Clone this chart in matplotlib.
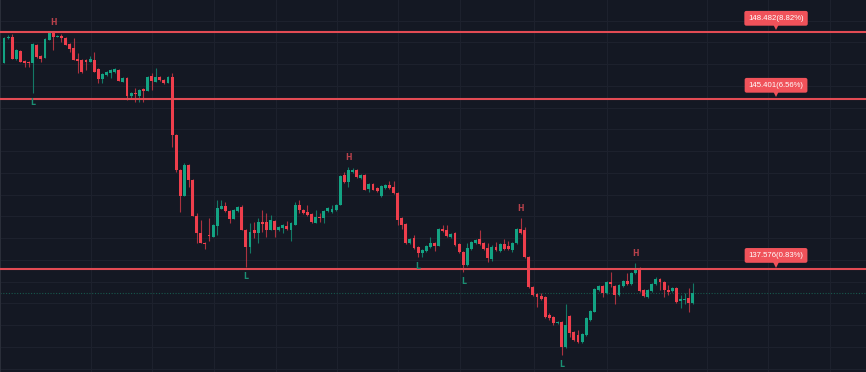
import numpy as np
import matplotlib.pyplot as plt
from matplotlib.transforms import ScaledTranslation

# =====================================================
# DATA (prices, one entry per candle)
# =====================================================

opens = [147.06, 148.21, 148.25, 147.24, 147.61, 147.15, 147.10, 147.06, 147.88, 147.38,
         147.29, 148.11, 148.44, 148.25, 148.30, 148.21, 147.93, 147.75, 147.24, 147.19,
         147.19, 147.10, 147.19, 146.78, 146.32, 146.50, 146.60, 146.64, 146.73, 146.18,
         146.37, 145.54, 145.68, 145.54, 145.86, 145.77, 146.46, 146.18, 146.41, 146.27,
         146.14, 146.41, 143.74, 142.13, 140.94, 142.37, 141.67, 140.02, 139.24, 138.78,
         139.14, 139.05, 139.56, 140.34, 140.48, 140.25, 139.88, 140.25, 140.43, 139.37,
         138.59, 139.37, 139.24, 139.74, 139.74, 139.37, 139.79, 139.37, 139.47, 139.56,
         139.37, 139.60, 140.52, 140.29, 140.20, 140.11, 139.70, 139.97, 139.93, 140.25,
         140.20, 140.29, 140.52, 141.90, 141.58, 142.04, 142.13, 141.76, 141.90, 141.26,
         141.49, 141.31, 140.94, 141.31, 141.44, 141.35, 141.08, 139.93, 139.65, 138.78,
         139.01, 138.59, 138.32, 138.41, 138.59, 138.78, 138.64, 139.42, 139.37, 139.05,
         139.24, 138.73, 138.36, 137.76, 138.50, 138.78, 138.96, 138.78, 138.55, 138.04,
         138.59, 138.41, 138.73, 138.64, 138.45, 138.78, 139.42, 139.37, 138.13, 136.75,
         136.43, 136.34, 136.29, 135.46, 135.37, 135.10, 135.14, 133.99, 135.42, 134.68,
         134.54, 134.22, 134.54, 135.23, 135.60, 136.61, 136.80, 136.47, 136.98, 136.80,
         136.38, 136.80, 137.03, 136.89, 137.40, 137.62, 136.61, 136.29, 136.57, 136.89,
         137.12, 136.98, 136.61, 136.57, 136.71, 136.11, 136.15, 136.24, 136.02]

closes = [148.21, 148.25, 147.24, 147.65, 147.10, 147.06, 147.06, 147.93, 147.33, 147.24,
          148.16, 148.44, 148.25, 148.30, 148.21, 147.88, 147.70, 147.19, 147.15, 146.64,
          147.10, 147.24, 146.64, 146.32, 146.55, 146.64, 146.73, 146.78, 146.23, 146.37,
          145.54, 145.68, 145.63, 145.81, 145.77, 146.41, 146.23, 146.41, 146.27, 146.14,
          146.41, 143.74, 142.13, 140.94, 142.37, 141.67, 140.02, 139.24, 138.78, 138.73,
          139.10, 139.60, 140.39, 140.48, 140.25, 139.88, 140.29, 140.43, 139.37, 138.59,
          139.28, 139.24, 139.74, 139.65, 139.37, 139.83, 139.37, 139.51, 139.60, 139.42,
          139.70, 140.52, 140.29, 140.16, 140.06, 139.74, 139.97, 139.93, 140.25, 140.39,
          140.34, 140.52, 141.86, 141.58, 142.13, 142.13, 141.81, 141.90, 141.21, 141.49,
          141.21, 141.17, 141.40, 141.44, 141.31, 141.08, 139.83, 139.60, 138.78, 138.96,
          138.55, 138.32, 138.45, 138.64, 138.78, 138.64, 139.42, 139.33, 139.10, 139.19,
          138.68, 138.36, 137.76, 138.55, 138.82, 138.91, 138.73, 138.50, 138.09, 138.59,
          138.45, 138.73, 138.50, 138.50, 138.78, 139.42, 139.24, 138.13, 136.75, 136.38,
          136.29, 136.20, 135.37, 135.33, 135.10, 135.14, 133.99, 135.00, 134.64, 134.31,
          134.22, 134.59, 135.33, 135.65, 136.66, 136.80, 136.47, 136.98, 136.89, 136.38,
          136.84, 137.03, 136.89, 137.40, 137.62, 136.57, 136.34, 136.61, 136.89, 137.12,
          136.98, 136.61, 136.52, 136.71, 136.06, 136.20, 136.20, 136.02, 136.47]

highs = [148.25, 148.34, 148.39, 147.70, 147.65, 147.19, 147.15, 147.98, 147.93, 147.42,
         148.21, 148.48, 148.48, 148.34, 148.39, 148.25, 147.98, 148.21, 147.51, 147.24,
         147.24, 147.38, 147.56, 146.83, 146.60, 146.69, 146.78, 146.83, 146.78, 146.41,
         146.41, 145.72, 145.91, 145.86, 145.91, 146.46, 146.60, 146.83, 146.46, 146.32,
         146.46, 146.60, 143.79, 142.18, 142.46, 142.41, 141.72, 140.16, 139.83, 138.82,
         139.93, 139.65, 140.75, 140.75, 140.66, 140.29, 140.34, 140.48, 140.52, 139.42,
         139.70, 139.74, 139.93, 140.29, 140.16, 140.06, 139.83, 139.56, 139.65, 139.79,
         139.74, 140.66, 140.75, 140.34, 140.52, 140.16, 140.29, 140.16, 140.29, 140.43,
         140.52, 140.57, 141.90, 142.04, 142.27, 142.23, 142.18, 141.95, 141.95, 141.54,
         141.54, 141.35, 141.44, 141.49, 141.63, 141.63, 141.12, 139.97, 139.70, 139.01,
         139.14, 138.64, 138.50, 138.68, 139.05, 138.82, 139.47, 139.60, 139.60, 139.24,
         139.28, 138.78, 138.41, 138.78, 138.87, 138.96, 139.37, 138.82, 138.78, 138.68,
         138.82, 138.78, 138.96, 138.87, 138.82, 139.47, 139.93, 139.51, 138.18, 136.80,
         136.47, 136.47, 136.34, 135.56, 135.42, 135.19, 135.19, 135.97, 135.46, 134.73,
         134.77, 134.64, 135.37, 135.69, 136.71, 136.84, 136.84, 137.03, 137.44, 136.84,
         136.89, 137.07, 137.40, 137.44, 137.86, 137.67, 136.66, 136.66, 136.94, 137.21,
         137.17, 137.03, 136.84, 136.75, 136.75, 136.38, 136.47, 136.71, 136.94]

lows = [147.06, 148.16, 147.24, 147.19, 147.10, 146.87, 146.87, 145.68, 147.29, 147.10,
        147.29, 148.11, 147.65, 148.25, 148.02, 147.88, 147.56, 147.19, 146.60, 146.60,
        146.73, 147.10, 146.64, 146.14, 146.14, 146.46, 146.37, 146.60, 146.23, 146.18,
        145.35, 145.40, 145.26, 145.26, 145.26, 145.77, 145.81, 146.18, 146.23, 146.09,
        146.14, 143.19, 142.04, 140.20, 140.94, 141.35, 140.02, 138.78, 138.78, 138.50,
        138.87, 139.05, 139.14, 140.34, 140.20, 139.70, 139.88, 140.20, 139.37, 137.67,
        138.32, 139.01, 138.78, 139.28, 139.05, 139.37, 139.05, 139.33, 139.24, 139.37,
        138.87, 139.60, 140.16, 140.11, 140.02, 139.70, 139.70, 139.74, 139.70, 140.20,
        140.16, 140.25, 140.52, 141.54, 141.35, 142.00, 141.76, 141.72, 141.21, 141.12,
        141.21, 141.12, 140.89, 141.26, 141.26, 141.03, 139.60, 139.42, 138.73, 138.73,
        138.50, 138.13, 138.13, 138.36, 138.55, 138.41, 138.64, 139.28, 139.05, 139.01,
        138.64, 138.32, 137.44, 137.72, 138.45, 138.73, 138.68, 138.45, 137.90, 137.95,
        138.41, 138.36, 138.45, 138.45, 138.36, 138.73, 139.19, 138.09, 136.71, 136.34,
        135.83, 136.15, 135.33, 135.23, 135.00, 135.05, 133.62, 133.94, 134.45, 134.27,
        134.18, 134.18, 134.50, 135.19, 135.60, 136.57, 136.29, 136.43, 136.75, 135.97,
        136.34, 136.75, 136.84, 136.84, 137.35, 136.52, 136.29, 136.24, 136.52, 136.84,
        136.61, 136.29, 136.38, 136.52, 136.02, 135.79, 135.97, 135.60, 135.97]

levels = [148.482, 145.401, 137.576]
level_labels = ["148.482(8.82%)", "145.401(6.56%)", "137.576(0.83%)"]

# swing high / low markers (candle index, kind)
swing_idx = [12, 7, 59, 84, 101, 112, 126, 136, 154]
swing_kind = ["H", "L", "L", "H", "L", "L", "H", "L", "H"]

# time grid (in candle units)
time_grid = [21.2, 36.1, 51.2, 66.3, 81.2, 96.1, 111.2, 129.3, 147.1, 171.5, 186.3, 201.5]
price_grid = [133, 134, 135, 136, 137, 138, 139, 140, 141, 142, 143, 144, 145, 146, 147, 148, 149]

# =====================================================
# STYLE
# =====================================================

bg = "#141823"
up = "#13a383"
down = "#ee3e4c"
level_col = "#e34b54"
label_col = "#f0525a"

opens = np.array(opens)
closes = np.array(closes)
highs = np.array(highs)
lows = np.array(lows)
idx = np.arange(len(opens))

fig = plt.figure(figsize=(8.66, 3.72), dpi=100)
fig.patch.set_facecolor(bg)
ax = fig.add_axes([0, 0, 1, 1])
ax.set_facecolor(bg)

# grid
for g in time_grid:
    ax.axvline(g, color="#1d212d", lw=0.8, zorder=0)
for g in price_grid:
    ax.axhline(g, color="#1d212d", lw=0.8, zorder=0)

# candles
is_up = closes >= opens
colors = np.where(is_up, up, down)
ax.vlines(idx, lows, highs, colors=colors, lw=0.8, alpha=0.7, zorder=2)
body_lo = np.minimum(opens, closes)
body_h = np.maximum(np.abs(closes - opens), 0.04)
ax.bar(idx, body_h, bottom=body_lo, width=0.72, color=colors, lw=0, zorder=3)

# current price line
ax.axhline(closes[-1], color="#17584d", lw=0.8, ls=(0, (1, 1.5)), zorder=1)

# levels with labels
label_x = 188.3
for lv, txt in zip(levels, level_labels):
    ax.axhline(lv, color=level_col, lw=1.5, zorder=4)
    ax.annotate(txt, (label_x, lv), xytext=(0, 9.8), textcoords="offset points",
                ha="center", va="center", fontsize=5.6, color="white",
                family="Liberation Sans", zorder=6,
                bbox=dict(boxstyle="round,pad=0.5,rounding_size=0.25",
                          fc=label_col, ec="none"))
    off = ScaledTranslation(0, 3.2 / 72, fig.dpi_scale_trans)
    ax.plot([label_x], [lv], marker="v", ms=4, color=label_col, mew=0,
            transform=ax.transData + off, zorder=6)

# swing markers
for i, k in zip(swing_idx, swing_kind):
    if k == "H":
        ax.annotate("H", (i, highs[i]), xytext=(0, 7), textcoords="offset points",
                    ha="center", va="center", fontsize=5.6, color="#b8414b",
                    fontweight="bold", zorder=5)
    else:
        ax.annotate("L", (i, lows[i]), xytext=(0, -7), textcoords="offset points",
                    ha="center", va="center", fontsize=5.6, color="#1b8f73",
                    fontweight="bold", zorder=5)

ax.set_xlim(-0.98, 210.24)
ax.set_ylim(132.84, 149.95)
ax.set_xticks([])
ax.set_yticks([])
for s in ["top", "right", "bottom"]:
    ax.spines[s].set_visible(False)
ax.spines["left"].set_color("#2a2e39")
ax.spines["left"].set_linewidth(1.5)

plt.savefig("out.png", dpi=100, facecolor=bg)
